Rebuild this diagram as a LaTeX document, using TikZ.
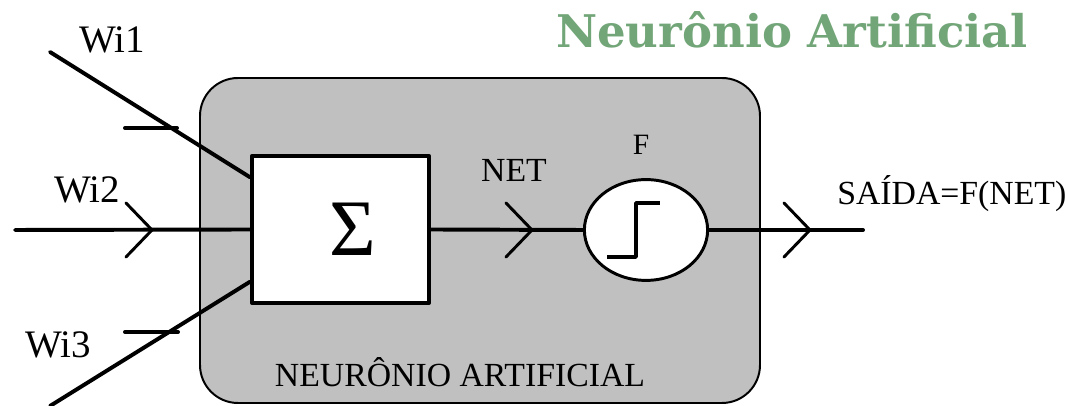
\documentclass[tikz,border=0pt]{standalone}
\usepackage{fontspec}
\setmainfont{Liberation Serif}
\newfontfamily\titlefont{DejaVu Serif}
\usetikzlibrary{shapes.geometric}
\definecolor{neurongray}{RGB}{192,192,192}
\definecolor{titlegreen}{RGB}{114,166,120}

\begin{document}
\begin{tikzpicture}[x=0.025cm,y=0.025cm,line cap=round,line join=round,
        wire/.style={line width=2.8pt},
        barb/.style={line width=2.1pt},
        lbl/.style={font=\fontsize{24}{26}\selectfont,inner sep=0pt}]
        \useasboundingbox (0,0) rectangle (1068,406);
        \fill[white] (0,0) rectangle (1068,406);

        \node[font=\titlefont\bfseries\fontsize{32}{35}\selectfont,titlegreen,inner sep=0pt]
            (title) at (792,376) {Neurônio Artificial};

        % corpo do neuronio
        \draw[fill=neurongray,line width=1.4pt,rounded corners=0.95cm]
            (200,3) rectangle (760,328);
        \node[lbl] (caption) at (460,34) {NEURÔNIO ARTIFICIAL};

        \node[draw,fill=white,line width=2.8pt,minimum width=4.42cm,minimum height=3.68cm,
            inner sep=0pt,font=\fontsize{57}{60}\selectfont] (sum) at (340.5,176.5)
            {\hspace{0.6cm}Σ};
        \node[draw,fill=white,ellipse,line width=2.1pt,minimum width=3.08cm,
            minimum height=2.52cm,inner sep=0pt] (fn) at (646,176) {};
        \draw[line width=2.5pt,line cap=butt]
            ([shift={(-39,-27)}]fn.center) -- ++(29,0) -- ++(0,54) -- ++(24,0);
        \node[lbl,font=\fontsize{21}{23}\selectfont] (flabel) at (641,261) {F};
        \node[lbl] (net) at (514,236) {NET};

        % entradas
        \coordinate (w1) at (50,354);
        \coordinate (w2) at (15,176);
        \coordinate (w3) at (50,0);
        \coordinate (out) at (863,176);
        \draw[wire] (w1) -- (sum.150);
        \draw[wire] (w2) -- (sum.west);
        \draw[wire] (w3) -- (sum.210);
        \draw[wire] (sum.east) -- (fn.west);
        \draw[wire] (fn.east) -- (out);

        \draw[wire] (125,278) -- (177,278);
        \draw[wire] (125,74) -- (178,74);

        \draw[barb] (126,203) -- (152,176) -- (126,149);
        \draw[barb] (506,203) -- (532,176) -- (506,149);
        \draw[barb] (784,203) -- (810,176) -- (784,149);

        \node[lbl,font=\fontsize{27.7}{30}\selectfont] (wi1) at (112,366) {Wi1};
        \node[lbl,font=\fontsize{27.7}{30}\selectfont] (wi2) at (87,216) {Wi2};
        \node[lbl,font=\fontsize{27.7}{30}\selectfont] (wi3) at (58,61) {Wi3};
        \node[lbl,anchor=west] (saida) at (837,212) {SAÍDA=F(NET)};
    \end{tikzpicture}
\end{document}
